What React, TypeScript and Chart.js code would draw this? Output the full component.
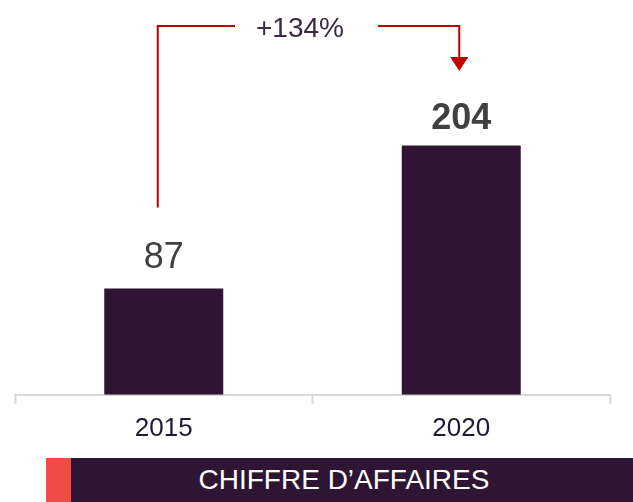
import React, { useEffect, useRef } from "react";
import { Chart, registerables } from "chart.js";

Chart.register(...registerables);

const categories = ["2015", "2020"];
const values = [87, 204];
const growthLabel = "+134%";
const bannerTitle = "CHIFFRE D’AFFAIRES";
const yMax = 300;

const FONT = "'Liberation Sans', Arial, Helvetica, sans-serif";

const valueLabelPlugin = {
  id: "valueLabels",
  afterDatasetsDraw(chart: any) {
    const ctx = chart.ctx;
    const meta = chart.getDatasetMeta(0);
    ctx.save();
    ctx.textAlign = "center";
    ctx.textBaseline = "alphabetic";
    meta.data.forEach((bar: any, i: number) => {
      const last = i === meta.data.length - 1;
      ctx.font = `${last ? "bold " : ""}36px ${FONT}`;
      ctx.fillStyle = "#404040";
      ctx.fillText(String(values[i]), bar.x, bar.y - (last ? 16 : 20));
    });
    ctx.restore();
  },
};

const growthArrowPlugin = {
  id: "growthArrow",
  afterDatasetsDraw(chart: any) {
    const ctx = chart.ctx;
    const meta = chart.getDatasetMeta(0);
    const b0 = meta.data[0];
    const b1 = meta.data[1];
    const xL = b0.x - 6;
    const xR = b1.x - 2;
    const yTop = 26;
    const yStart = b0.y - 81;
    const textX = 300;
    const gapL = 235;
    const gapR = 378;
    ctx.save();
    ctx.strokeStyle = "#c00000";
    ctx.lineWidth = 2;
    ctx.beginPath();
    ctx.moveTo(xL, yStart);
    ctx.lineTo(xL, yTop);
    ctx.lineTo(gapL, yTop);
    ctx.moveTo(gapR, yTop);
    ctx.lineTo(xR, yTop);
    ctx.lineTo(xR, 58);
    ctx.stroke();
    ctx.fillStyle = "#c00000";
    ctx.beginPath();
    ctx.moveTo(xR - 9, 57);
    ctx.lineTo(xR + 9, 57);
    ctx.lineTo(xR, 71);
    ctx.closePath();
    ctx.fill();
    ctx.font = `28px ${FONT}`;
    ctx.fillStyle = "#3a2a40";
    ctx.textAlign = "center";
    ctx.textBaseline = "alphabetic";
    ctx.fillText(growthLabel, textX, 37);
    ctx.restore();
  },
};

export default function App() {
  const ref = useRef<HTMLCanvasElement | null>(null);

  useEffect(() => {
    document.body.style.margin = "0";
    const canvas = ref.current;
    if (!canvas) return;
    const chart = new Chart(canvas, {
      type: "bar",
      data: {
        labels: categories,
        datasets: [
          {
            data: values,
            backgroundColor: "#2f1533",
            borderWidth: 0,
            barPercentage: 0.4,
            categoryPercentage: 1,
          },
        ],
      },
      options: {
        responsive: false,
        animation: false,
        layout: { padding: { top: 28, left: 15, right: 23, bottom: 5 } },
        plugins: { legend: { display: false }, tooltip: { enabled: false } },
        scales: {
          x: {
            offset: true,
            grid: {
              display: true,
              drawOnChartArea: false,
              drawTicks: true,
              tickLength: 9,
              tickWidth: 2,
              tickColor: "#d9d9d9",
              offset: true,
            },
            border: { display: true, color: "#d9d9d9", width: 2 },
            ticks: {
              color: "#1f1a33",
              font: { family: FONT, size: 26 },
              padding: 9,
              maxRotation: 0,
            },
          },
          y: {
            display: false,
            min: 0,
            max: yMax,
          },
        },
      },
      plugins: [valueLabelPlugin, growthArrowPlugin],
    });
    return () => chart.destroy();
  }, []);

  return (
    <div style={{ position: "absolute", left: 0, top: 0, width: 633, height: 502, background: "#ffffff", overflow: "hidden" }}>
      <canvas ref={ref} width={633} height={458} style={{ position: "absolute", left: 0, top: 0 }} />
      <div style={{ position: "absolute", left: 46, top: 458, width: 25, height: 44, background: "#ef4c43" }} />
      <div
        style={{
          position: "absolute",
          left: 71,
          top: 458,
          width: 562,
          height: 44,
          background: "#2f1534",
        }}
      />
      <div
        style={{
          position: "absolute",
          left: 144,
          top: 458,
          width: 400,
          height: 44,
          lineHeight: "44px",
          textAlign: "center",
          color: "#ffffff",
          fontFamily: FONT,
          fontSize: 28,
          whiteSpace: "nowrap",
        }}
      >
        {bannerTitle}
      </div>
    </div>
  );
}
